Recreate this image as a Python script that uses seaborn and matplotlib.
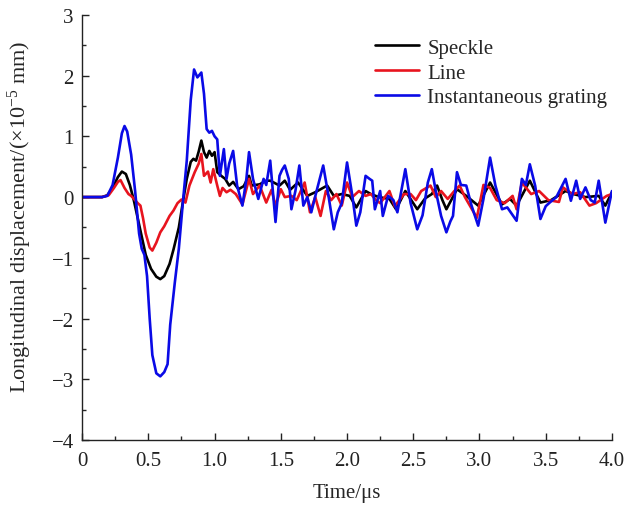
import numpy as np
import pandas as pd
import matplotlib
matplotlib.use("Agg")
import matplotlib.pyplot as plt
import seaborn as sns
from matplotlib.ticker import MultipleLocator

# ---- data ----
blue_t = [0, 0.15, 0.19, 0.23, 0.27, 0.30, 0.32, 0.34, 0.37, 0.40, 0.43, 0.45, 0.47, 0.49, 0.51, 0.53, 0.56, 0.59,
          0.62, 0.645, 0.665, 0.70, 0.73, 0.76, 0.79, 0.82, 0.845, 0.87, 0.90, 0.92, 0.94, 0.96, 0.98, 1.00, 1.02, 1.04, 1.07,
          1.09, 1.11, 1.14, 1.17, 1.21, 1.24, 1.26, 1.29, 1.33, 1.37, 1.39, 1.42, 1.46, 1.49, 1.51, 1.53, 1.56, 1.58,
          1.61, 1.64, 1.67, 1.70, 1.73, 1.77, 1.82, 1.86, 1.90, 1.93, 1.96, 2.00, 2.04, 2.07, 2.10, 2.14, 2.17, 2.19,
          2.21, 2.25, 2.27, 2.31, 2.35, 2.38, 2.44, 2.48, 2.53, 2.57, 2.61, 2.64, 2.67, 2.71, 2.75, 2.78, 2.80, 2.83,
          2.86, 2.90, 2.94, 2.99, 3.03, 3.08, 3.12, 3.17, 3.21, 3.28, 3.32, 3.35, 3.38, 3.42, 3.46, 3.50, 3.53, 3.58,
          3.65, 3.69, 3.73, 3.76, 3.80, 3.84, 3.87, 3.90, 3.95, 4.00]
blue_v = [0, 0, 0.02, 0.2, 0.65, 1.05, 1.17, 1.08, 0.7, 0.1, -0.6, -0.85, -0.95, -1.3, -2.0, -2.6, -2.9, -2.95,
          -2.88, -2.75, -2.1, -1.4, -0.85, -0.1, 0.6, 1.6, 2.1, 1.97, 2.05, 1.7, 1.12, 1.06, 1.09, 1.0, 0.95, 0.35, 0.79,
          0.30, 0.55, 0.76, 0.19, -0.14, 0.3, 0.74, 0.30, -0.03, 0.3, 0.2, 0.6, -0.41, 0.35, 0.45, 0.52, 0.30, -0.2,
          0.1, 0.52, -0.14, 0.0, -0.25, 0.1, 0.52, 0.02, -0.53, -0.25, -0.1, 0.57, 0.02, -0.47, -0.25, 0.35, 0.30, 0.27,
          -0.2, 0.1, -0.31, 0.02, -0.05, -0.25, 0.46, -0.1, -0.53, -0.3, 0.24, 0.46, 0.1, -0.31, -0.58, -0.4, -0.31, 0.41,
          0.2, 0.19, -0.14, -0.47, -0.03, 0.65, 0.19, -0.2, -0.17, -0.39, 0.30, 0.2, 0.54, 0.19, -0.36, -0.15, -0.09, 0.0,
          0.30, -0.06, 0.27, -0.03, 0.16, -0.05, -0.09, 0.27, -0.42, 0.1]

black_t = [0, 0.15, 0.19, 0.23, 0.27, 0.30, 0.33, 0.36, 0.39, 0.42, 0.45, 0.48, 0.52, 0.56, 0.59, 0.62, 0.66, 0.69,
           0.73, 0.76, 0.79, 0.82, 0.84, 0.86, 0.88, 0.90, 0.92, 0.94, 0.96, 0.98, 1.00, 1.02, 1.05, 1.08, 1.11, 1.14,
           1.18, 1.22, 1.26, 1.28, 1.34, 1.39, 1.42, 1.49, 1.53, 1.57, 1.63, 1.70, 1.76, 1.85, 1.90, 1.96, 2.02, 2.07,
           2.14, 2.18, 2.24, 2.32, 2.37, 2.44, 2.53, 2.59, 2.64, 2.68, 2.72, 2.75, 2.83, 2.90, 2.99, 3.08, 3.17, 3.23,
           3.28, 3.38, 3.46, 3.54, 3.65, 3.71, 3.80, 3.90, 3.95, 4.00]
black_v = [0, 0, 0.03, 0.15, 0.33, 0.42, 0.38, 0.2, -0.05, -0.35, -0.65, -0.95, -1.18, -1.31, -1.35, -1.3, -1.1, -0.86,
           -0.5, -0.09, 0.3, 0.58, 0.63, 0.6, 0.75, 0.93, 0.74, 0.65, 0.76, 0.68, 0.74, 0.41, 0.35, 0.3, 0.19, 0.25,
           0.13, 0.18, 0.35, 0.19, 0.21, 0.27, 0.27, 0.19, 0.27, 0.12, 0.24, 0.02, 0.08, 0.19, 0.02, 0.05, 0.02, -0.17,
           0.1, 0.05, 0.0, -0.03, -0.2, 0.1, -0.2, -0.02, 0.05, 0.19, -0.05, -0.2, 0.13, 0.02, -0.14, 0.24, -0.12, -0.03,
           -0.14, 0.27, -0.09, -0.05, 0.1, 0.05, 0.0, 0.02, -0.14, 0.08]

red_t = [0, 0.15, 0.20, 0.24, 0.27, 0.29, 0.32, 0.35, 0.37, 0.40, 0.42, 0.44, 0.46, 0.48, 0.51, 0.53, 0.56, 0.59,
         0.62, 0.66, 0.69, 0.72, 0.75, 0.78, 0.81, 0.85, 0.88, 0.90, 0.92, 0.95, 0.97, 0.99, 1.02, 1.04, 1.06, 1.09,
         1.12, 1.16, 1.21, 1.26, 1.29, 1.34, 1.39, 1.43, 1.46, 1.50, 1.53, 1.58, 1.62, 1.68, 1.72, 1.76, 1.80, 1.84,
         1.88, 1.92, 1.96, 2.00, 2.04, 2.09, 2.14, 2.18, 2.22, 2.25, 2.32, 2.36, 2.43, 2.48, 2.52, 2.56, 2.63, 2.67,
         2.71, 2.76, 2.81, 2.85, 2.89, 2.98, 3.03, 3.08, 3.13, 3.19, 3.25, 3.28, 3.32, 3.39, 3.45, 3.52, 3.60, 3.63,
         3.70, 3.76, 3.83, 3.88, 3.96, 4.00]
red_v = [0, 0, 0.03, 0.15, 0.25, 0.28, 0.15, 0.05, 0.02, -0.05, -0.1, -0.14, -0.35, -0.6, -0.83, -0.88, -0.75, -0.58,
         -0.48, -0.31, -0.22, -0.1, -0.04, -0.09, 0.19, 0.41, 0.55, 0.71, 0.35, 0.42, 0.24, 0.46, 0.19, 0.02, 0.15, 0.08,
         0.12, 0.05, -0.12, 0.3, 0.05, 0.19, -0.09, 0.12, -0.14, 0.13, 0.0, 0.02, -0.05, 0.24, -0.25, 0.0, -0.31, 0.1,
         -0.05, 0.05, -0.14, 0.24, 0.0, 0.1, 0.02, 0.05, -0.05, -0.1, 0.1, -0.15, 0.05, 0.05, -0.05, 0.1, 0.19, 0.0,
         0.1, -0.03, 0.1, 0.19, 0.0, -0.34, 0.2, 0.15, -0.05, -0.1, 0.02, -0.2, 0.24, 0.05, 0.1, -0.05, -0.08, 0.16,
         0.05, 0.08, -0.14, -0.1, 0.02, 0.05]

series_names = ["Speckle", "Line", "Instantaneous grating"]
series_colors = ["#000000", "#e8141e", "#0a0ae6"]
x_ticks = [0, 0.5, 1.0, 1.5, 2.0, 2.5, 3.0, 3.5, 4.0]
x_ticklabels = ["0", "0.5", "1.0", "1.5", "2.0", "2.5", "3.0", "3.5", "4.0"]
y_ticks = [-4, -3, -2, -1, 0, 1, 2, 3]
y_ticklabels = ["\u22124", "\u22123", "\u22122", "\u22121", "0", "1", "2", "3"]

df = pd.concat([
    pd.DataFrame({"t": black_t, "v": black_v, "s": series_names[0]}),
    pd.DataFrame({"t": red_t, "v": red_v, "s": series_names[1]}),
    pd.DataFrame({"t": blue_t, "v": blue_v, "s": series_names[2]}),
], ignore_index=True)

sns.set_style("ticks")
plt.rcParams["font.family"] = ["Liberation Serif", "DejaVu Serif"]
plt.rcParams["mathtext.fontset"] = "custom"
plt.rcParams["mathtext.rm"] = "Liberation Serif"
plt.rcParams["mathtext.it"] = "Liberation Serif:italic"

FS = 15

fig = plt.figure(figsize=(6.27, 5.10), dpi=100)
ax = fig.add_axes([0.131, 0.135, 0.845, 0.834])

sns.lineplot(data=df, x="t", y="v", hue="s", hue_order=series_names,
             palette=dict(zip(series_names, series_colors)), sort=False,
             estimator=None, units="s", linewidth=1.9, ax=ax)

ax.set_xlim(0, 4.0)
ax.set_ylim(-4, 3)
ax.set_xticks(x_ticks)
ax.set_xticklabels(x_ticklabels)
ax.set_yticks(y_ticks)
ax.set_yticklabels(y_ticklabels)
ax.xaxis.set_minor_locator(MultipleLocator(0.25))
ax.yaxis.set_minor_locator(MultipleLocator(0.5))
ax.tick_params(axis="both", which="major", direction="in", length=5, width=1.0, labelsize=FS, colors="#222222")
ax.tick_params(axis="x", which="major", pad=8)
ax.tick_params(axis="y", which="major", pad=6)
ax.tick_params(axis="both", which="minor", direction="in", length=3, width=1.0)
for side in ["top", "right"]:
    ax.spines[side].set_visible(False)
for side in ["left", "bottom"]:
    ax.spines[side].set_linewidth(1.0)
    ax.spines[side].set_color("#222222")

ax.set_xlabel("Time/\u03bcs", fontsize=FS, labelpad=9)
ax.set_ylabel(r"Longitudinal displacement/($\times$10$^{-5}$ mm)", fontsize=16)
ax.yaxis.set_label_coords(-0.090, 0.527)

leg = ax.legend(loc="upper left", bbox_to_anchor=(0.553, 0.945), frameon=False, fontsize=FS,
                handlelength=2.1, handletextpad=0.4, labelspacing=0.25, borderaxespad=0, borderpad=0)
for h in leg.get_lines():
    h.set_linewidth(1.9)

fig.savefig("out.png", dpi=100)
